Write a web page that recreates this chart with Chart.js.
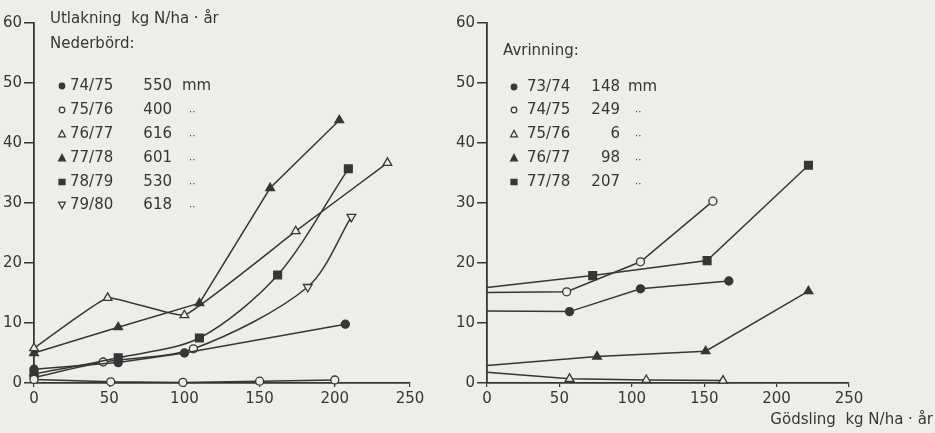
<!DOCTYPE html>
<html>
<head>
<meta charset="utf-8">
<script src="https://cdn.jsdelivr.net/npm/chart.js@4/dist/chart.umd.min.js"></script>
<style>
  html, body { margin: 0; padding: 0; background: #edeeea; }
  #wrap { position: relative; width: 935px; height: 433px; }
  .pane { position: absolute; top: 0; height: 433px; }
  #left { left: 0; width: 440px; }
  #right { left: 440px; width: 495px; }
</style>
</head>
<body>
<div id="wrap">
  <div class="pane" id="left"><canvas id="c1"></canvas></div>
  <div class="pane" id="right"><canvas id="c2"></canvas></div>
</div>
<script>
// axis ticks (kg N/ha, kg N/ha·år)
const xTicks = [0, 50, 100, 150, 200, 250];
const yTicks = [0, 10, 20, 30, 40, 50, 60];

// left panel: leaching by year, with precipitation
const nedYears = ['74/75', '75/76', '76/77', '77/78', '78/79', '79/80'];
const nedMm = ['550', '400', '616', '601', '530', '618'];
const ned7475x = [0, 56, 100, 207];
const ned7475y = [2.3, 3.4, 5.0, 9.8];
const ned7576x = [0, 51, 99, 150, 200];
const ned7576y = [0.6, 0.2, 0.1, 0.3, 0.5];
const ned7677x = [0, 49, 100, 174, 235];
const ned7677y = [5.8, 14.2, 11.3, 25.3, 36.7];
const ned7778x = [0, 56, 110, 157, 203];
const ned7778y = [5.0, 9.3, 13.3, 32.5, 43.8];
const ned7879x = [0, 56, 110, 162, 209];
const ned7879y = [1.5, 4.2, 7.5, 18.0, 35.7];
const ned7980x = [0, 46, 106, 182, 211];
const ned7980y = [0.9, 3.5, 5.7, 16.0, 27.7];

// right panel: leaching by year, with runoff
const avrYears = ['73/74', '74/75', '75/76', '76/77', '77/78'];
const avrMm = ['148', '249', '6', '98', '207'];
const avr7374x = [0, 57, 106, 167];
const avr7374y = [12.0, 11.9, 15.7, 17.0];
const avr7475x = [0, 55, 106, 156];
const avr7475y = [15.1, 15.2, 20.2, 30.3];
const avr7576x = [0, 57, 110, 163];
const avr7576y = [1.8, 0.7, 0.5, 0.4];
const avr7677x = [0, 76, 151, 222];
const avr7677y = [2.9, 4.4, 5.3, 15.3];
const avr7778x = [0, 73, 152, 222];
const avr7778y = [15.9, 17.9, 20.4, 36.3];

const INK = '#363636';
const BG = '#edeeea';
const FONT = '"DejaVu Sans", sans-serif';

function pts(xs, ys) { return xs.map((x, i) => ({ x: x, y: ys[i] })); }

// marker kinds: fc filled circle, oc open circle, ot open tri, ft filled tri, fs square, dt down tri
function styleOf(kind) {
  switch (kind) {
    case 'fc': return { pointStyle: 'circle', fill: INK, r: 4, rot: 0 };
    case 'oc': return { pointStyle: 'circle', fill: BG, r: 4, rot: 0 };
    case 'ot': return { pointStyle: 'triangle', fill: BG, r: 5, rot: 0 };
    case 'ft': return { pointStyle: 'triangle', fill: INK, r: 5, rot: 0 };
    case 'fs': return { pointStyle: 'rect', fill: INK, r: 5.5, rot: 0 };
    case 'dt': return { pointStyle: 'triangle', fill: BG, r: 5, rot: 180 };
  }
}

function series(data, kind, tension, firstHidden) {
  const s = styleOf(kind);
  return {
    data: data,
    borderColor: INK,
    borderWidth: 1.5,
    tension: tension,
    pointStyle: s.pointStyle,
    pointRotation: s.rot,
    pointBackgroundColor: s.fill,
    pointBorderColor: INK,
    pointBorderWidth: 1.3,
    pointRadius: data.map((p, i) => (firstHidden && i === 0) ? 0 : s.r),
    clip: false
  };
}

function drawMark(ctx, kind, x, y) {
  const s = styleOf(kind);
  ctx.save();
  ctx.fillStyle = s.fill;
  ctx.strokeStyle = INK;
  ctx.lineWidth = 1.2;
  ctx.beginPath();
  if (s.pointStyle === 'circle') {
    ctx.arc(x, y, 2.8, 0, Math.PI * 2);
  } else if (s.pointStyle === 'rect') {
    ctx.rect(x - 3, y - 2.6, 6, 5.2);
  } else {
    const d = s.rot ? -1 : 1;
    ctx.moveTo(x, y - 3.6 * d);
    ctx.lineTo(x + 3.4, y + 2.8 * d);
    ctx.lineTo(x - 3.4, y + 2.8 * d);
    ctx.closePath();
  }
  ctx.fill();
  ctx.stroke();
  ctx.restore();
}

function notesPlugin(spec) {
  return {
    id: 'notes',
    afterDraw(chart) {
      const ctx = chart.ctx;
      ctx.save();
      ctx.fillStyle = INK;
      ctx.font = '15px ' + FONT;
      ctx.textBaseline = 'middle';
      spec.texts.forEach(t => {
        ctx.textAlign = t.align || 'left';
        ctx.fillText(t.text, t.x, t.y);
      });
      spec.rows.forEach((r, i) => {
        drawMark(ctx, r.kind, spec.markX, r.y);
        ctx.textAlign = 'left';
        ctx.fillText(r.year, spec.yearX, r.y);
        ctx.textAlign = 'right';
        ctx.fillText(r.mm, spec.mmX, r.y);
        ctx.textAlign = 'left';
        if (i === 0) {
          ctx.fillText('mm', spec.unitX, r.y);
        } else {
          ctx.font = '10px ' + FONT;
          ctx.fillText('\u00B7\u00B7', spec.unitX + 7, r.y + 2);
          ctx.font = '15px ' + FONT;
        }
      });
      ctx.restore();
    }
  };
}

function makeOptions(padLeft, padRight) {
  return {
    responsive: true,
    maintainAspectRatio: false,
    animation: false,
    layout: { padding: { top: 23, left: padLeft, right: padRight, bottom: 0 } },
    plugins: { legend: { display: false }, tooltip: { enabled: false } },
    scales: {
      x: {
        type: 'linear', min: 0, max: 250,
        afterBuildTicks: s => { s.ticks = xTicks.map(v => ({ value: v })); },
        afterFit: s => { s.height = 50; },
        border: { display: true, color: INK, width: 1.8 },
        grid: { drawOnChartArea: false, drawTicks: true, tickLength: 4, color: INK, lineWidth: 1.2 },
        ticks: { color: INK, font: { family: FONT, size: 15 }, padding: 3, maxRotation: 0 }
      },
      y: {
        type: 'linear', min: 0, max: 60,
        afterBuildTicks: s => { s.ticks = yTicks.map(v => ({ value: v })); },
        afterFit: s => { s.width = 34; },
        border: { display: true, color: INK, width: 1.8 },
        grid: { drawOnChartArea: false, drawTicks: true, tickLength: 10, color: INK, lineWidth: 1.5 },
        ticks: { color: INK, font: { family: FONT, size: 15 }, padding: 2 }
      }
    }
  };
}

const leftKinds = ['fc', 'oc', 'ot', 'ft', 'fs', 'dt'];
const leftSets = [
  series(pts(ned7475x, ned7475y), 'fc', 0, false),
  series(pts(ned7576x, ned7576y), 'oc', 0, false),
  series(pts(ned7677x, ned7677y), 'ot', 0.1, false),
  series(pts(ned7778x, ned7778y), 'ft', 0, false),
  series(pts(ned7879x, ned7879y), 'fs', 0.3, false),
  series(pts(ned7980x, ned7980y), 'dt', 0.3, false)
];
// the two middle points of 79/80 are drawn as open circles in the original
leftSets[5].pointStyle = ['triangle', 'circle', 'circle', 'triangle', 'triangle'];
leftSets[5].pointRotation = [180, 0, 0, 180, 180];
leftSets[5].pointRadius = [5, 4, 4, 5, 5];

const rowY1 = [86, 110, 134, 158, 182, 205];
new Chart(document.getElementById('c1'), {
  type: 'line',
  data: { datasets: leftSets },
  options: makeOptions(0, 30),
  plugins: [notesPlugin({
    texts: [
      { text: 'Utlakning  kg N/ha \u00B7 \u00E5r', x: 50, y: 19 },
      { text: 'Nederb\u00F6rd:', x: 50, y: 44 }
    ],
    markX: 62, yearX: 70, mmX: 172, unitX: 182,
    rows: nedYears.map((yr, i) => ({ kind: leftKinds[i], year: yr, mm: nedMm[i], y: rowY1[i] }))
  })]
});

const rightKinds = ['fc', 'oc', 'ot', 'ft', 'fs'];
const rightSets = [
  series(pts(avr7374x, avr7374y), 'fc', 0, true),
  series(pts(avr7475x, avr7475y), 'oc', 0, true),
  series(pts(avr7576x, avr7576y), 'ot', 0, true),
  series(pts(avr7677x, avr7677y), 'ft', 0, true),
  series(pts(avr7778x, avr7778y), 'fs', 0, true)
];
const rowY2 = [87, 110, 134, 158, 182];
new Chart(document.getElementById('c2'), {
  type: 'line',
  data: { datasets: rightSets },
  options: makeOptions(13, 86),
  plugins: [notesPlugin({
    texts: [
      { text: 'Avrinning:', x: 63, y: 51 },
      { text: 'G\u00F6dsling  kg N/ha \u00B7 \u00E5r', x: 493, y: 420, align: 'right' }
    ],
    markX: 74, yearX: 87, mmX: 180, unitX: 188,
    rows: avrYears.map((yr, i) => ({ kind: rightKinds[i], year: yr, mm: avrMm[i], y: rowY2[i] }))
  })]
});
</script>
</body>
</html>
